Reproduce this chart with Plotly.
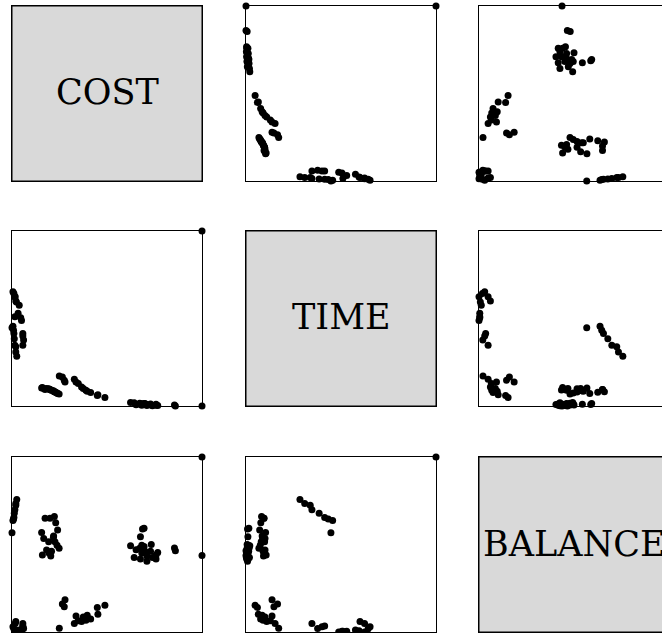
import plotly.graph_objects as go
from plotly.subplots import make_subplots

labels = ["COST", "TIME", "BALANCE"]

# normalised values (0 = min, 1 = max)
cost = [
    1.0, 1.0, 0.86, 0.855,
    0.758, 0.758, 0.739, 0.729, 0.733, 0.710, 0.710, 0.700, 0.695, 0.676,
    0.683, 0.672, 0.683, 0.643, 0.653, 0.624, 0.676, 0.687, 0.695, 0.767,
    0.025, 0.020, 0.020, 0.015, 0.012, 0.010, 0.008, 0.005, 0.000,
    0.057, 0.061, 0.057, 0.057, 0.050, 0.046, 0.032, 0.038, 0.023, 0.020,
    0.013, 0.017, 0.010, 0.005, 0.015,
    0.248, 0.240, 0.237, 0.230, 0.226, 0.223, 0.219, 0.218, 0.208, 0.204,
    0.200, 0.195, 0.193, 0.182, 0.174, 0.167, 0.156, 0.160,
    0.489, 0.452, 0.449, 0.414, 0.396, 0.389, 0.375, 0.366, 0.349, 0.337,
    0.328, 0.279, 0.275, 0.265, 0.249,
]
time = [
    1.0, 0.0, 0.0, 0.006,
    0.004, 0.010, 0.002, 0.012, 0.006, 0.008, 0.003, 0.014, 0.009, 0.011,
    0.005, 0.016, 0.013, 0.018, 0.007, 0.020, 0.010, 0.008, 0.015, 0.003,
    0.284, 0.309, 0.338, 0.347, 0.385, 0.414, 0.433, 0.456, 0.447,
    0.347, 0.377, 0.400, 0.414, 0.488, 0.505, 0.530, 0.576, 0.595, 0.600,
    0.624, 0.624, 0.643, 0.653, 0.510,
    0.068, 0.072, 0.075, 0.078, 0.080, 0.082, 0.085, 0.087, 0.090, 0.092,
    0.094, 0.096, 0.098, 0.100, 0.095, 0.100, 0.103, 0.106,
    0.048, 0.065, 0.060, 0.077, 0.085, 0.090, 0.100, 0.109, 0.128, 0.137,
    0.153, 0.137, 0.147, 0.166, 0.172,
]
balance = [
    1.0, 0.437, 0.465, 0.480,
    0.417, 0.440, 0.426, 0.461, 0.500, 0.405, 0.435, 0.461, 0.488, 0.417,
    0.452, 0.479, 0.496, 0.426, 0.470, 0.493, 0.544, 0.588, 0.593, 0.455,
    0.757, 0.734, 0.725, 0.699, 0.678, 0.655, 0.646, 0.637, 0.567,
    0.048, 0.020, 0.030, 0.035, 0.000, 0.004, 0.004, 0.012, 0.007, 0.060,
    0.000, 0.048, 0.018, 0.030, 0.004,
    0.479, 0.583, 0.496, 0.625, 0.516, 0.660, 0.549, 0.541, 0.461, 0.434,
    0.650, 0.452, 0.516, 0.468, 0.650, 0.535, 0.568, 0.440,
    0.153, 0.101, 0.140, 0.074, 0.096, 0.067, 0.086, 0.060, 0.065, 0.092,
    0.048, 0.185, 0.145, 0.160, 0.021,
]
variables = [cost, time, balance]

W, H = 662, 633
ML, MR, MT, MB = 12, 0, 6, 1
PW, PH = W - ML - MR, H - MT - MB
col_x0 = [12, 246, 479]
row_y0 = [6, 231, 457]
panel_w, panel_h = 190, 175

fig = make_subplots(rows=3, cols=3)

for r in range(3):
    for c in range(3):
        n = r * 3 + c + 1
        xs = "" if n == 1 else str(n)
        x0 = (col_x0[c] - ML) / PW
        x1_full = (col_x0[c] + panel_w - ML) / PW
        frac = 1.0 if x1_full <= 1 else (1 - x0) / (x1_full - x0)
        x1 = min(1.0, x1_full)
        y1 = min(1.0, (H - MB - row_y0[r]) / PH)
        y0 = max(0.0, (H - MB - row_y0[r] - panel_h) / PH)
        fig.layout["xaxis" + xs].update(
            domain=[x0, x1], range=[0, frac], showticklabels=False, ticks="",
            showgrid=False, zeroline=False, showline=True, linecolor="black",
            linewidth=1, mirror=True, fixedrange=True)
        fig.layout["yaxis" + xs].update(
            domain=[y0, y1], range=[0, 1], showticklabels=False, ticks="",
            showgrid=False, zeroline=False, showline=True, linecolor="black",
            linewidth=1, mirror=(c != 2), fixedrange=True)
        if r == c:
            fig.add_trace(go.Scatter(x=[None], y=[None], mode="markers",
                                     showlegend=False, hoverinfo="skip"),
                          row=r + 1, col=c + 1)
            fig.add_shape(type="rect", xref="paper", yref="paper",
                          x0=x0, x1=x1_full, y0=y0, y1=y1,
                          fillcolor="#d9d9d9", line=dict(color="black", width=1),
                          layer="below")
            fig.add_annotation(text=labels[r], xref="paper", yref="paper",
                               x=(x0 + x1_full) / 2, y=(y0 + y1) / 2, showarrow=False,
                               xanchor="center", yanchor="middle", yshift=1,
                               font=dict(family="DejaVu Serif", size=35, color="black"))
        else:
            fig.add_trace(go.Scatter(
                x=variables[c], y=variables[r], mode="markers",
                marker=dict(color="black", size=7, line=dict(width=0)),
                cliponaxis=False, showlegend=False, hoverinfo="skip"),
                row=r + 1, col=c + 1)

fig.update_layout(width=W, height=H, margin=dict(l=ML, r=MR, t=MT, b=MB, pad=0),
                  paper_bgcolor="white", plot_bgcolor="white", showlegend=False)

fig.write_html("out.html", config={"displayModeBar": False},
               post_script="document.body.style.margin='0';document.body.style.overflow='hidden';")
